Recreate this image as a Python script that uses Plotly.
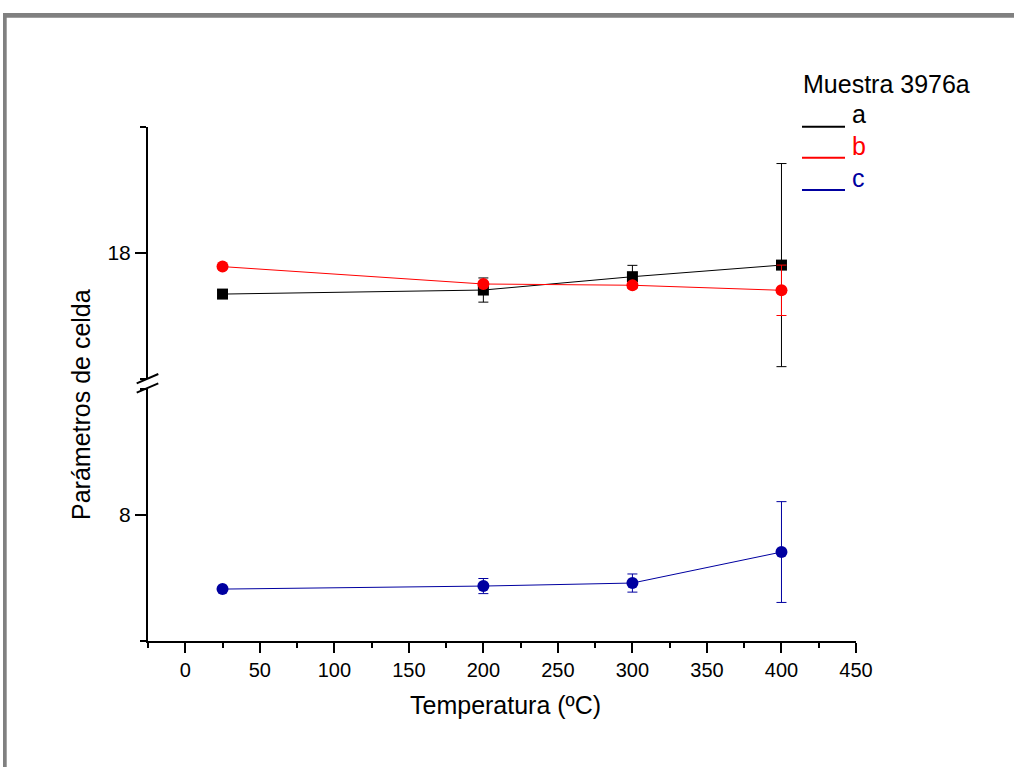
import plotly.graph_objects as go

# ---- data ----
temperatura = [25, 200, 300, 400]
a_vals = [17.837, 17.853, 17.906, 17.952]
a_err = [0.014, 0.048, 0.045, 0.403]
b_vals = [17.946, 17.877, 17.872, 17.852]
b_err = [0.0, 0.008, 0.010, 0.100]
c_vals = [7.706, 7.718, 7.730, 7.853]
c_err = [0.0, 0.030, 0.036, 0.200]
x_ticks = [0, 50, 100, 150, 200, 250, 300, 350, 400, 450]
legend_title = "Muestra 3976a"
series_names = ["a", "b", "c"]
colors = ["#000000", "#FF0000", "#0000A0"]

W, H = 1014, 767
L, R, T, B = 148, 856, 127, 641  # plot area in pixels
pw, ph = R - L, B - T

def px(x):
    return (x - L) / pw

def py(y):
    return (B - y) / ph

upper_dom = [py(379), 1.0]
lower_dom = [0.0, py(389)]

FONT = "Liberation Sans, Arial, sans-serif"

fig = go.Figure()

fig.add_trace(go.Scatter(
    x=temperatura, y=a_vals, mode="lines+markers", name=series_names[0],
    yaxis="y2", line=dict(color=colors[0], width=1),
    marker=dict(symbol="square", size=11, color=colors[0]),
    error_y=dict(type="data", array=a_err, visible=True, color=colors[0], thickness=1, width=5),
))
fig.add_trace(go.Scatter(
    x=temperatura, y=b_vals, mode="lines+markers", name=series_names[1],
    yaxis="y2", line=dict(color=colors[1], width=1),
    marker=dict(symbol="circle", size=12, color=colors[1]),
    error_y=dict(type="data", array=b_err, visible=True, color=colors[1], thickness=1, width=5),
))
fig.add_trace(go.Scatter(
    x=temperatura, y=c_vals, mode="lines+markers", name=series_names[2],
    yaxis="y", line=dict(color=colors[2], width=1),
    marker=dict(symbol="circle", size=12, color=colors[2]),
    error_y=dict(type="data", array=c_err, visible=True, color=colors[2], thickness=1, width=5),
))

axis_common = dict(
    showline=True, linecolor="black", linewidth=2, showgrid=False, zeroline=False,
    ticks="outside", tickcolor="black", tickwidth=2,
)

fig.update_layout(
    width=W, height=H,
    margin=dict(l=L, r=W - R, t=T, b=H - B, pad=0),
    paper_bgcolor="white", plot_bgcolor="white",
    showlegend=False,
    xaxis=dict(
        range=[-25, 450], tickvals=x_ticks, ticklen=10, anchor="y",
        tickfont=dict(family=FONT, size=20, color="black"),
        minor=dict(dtick=25, tick0=0, ticklen=5, ticks="outside", tickcolor="black", tickwidth=1.5),
        **axis_common,
    ),
    yaxis=dict(
        domain=lower_dom, range=[7.5, 8.5], tickvals=[8], ticklen=11, anchor="x",
        tickfont=dict(family=FONT, size=21, color="black"),
        minor=dict(dtick=0.5, tick0=0, ticklen=6, ticks="outside", tickcolor="black", tickwidth=1.5),
        **axis_common,
    ),
    yaxis2=dict(
        domain=upper_dom, range=[17.5, 18.5], tickvals=[18], ticklen=11, anchor="x",
        tickfont=dict(family=FONT, size=21, color="black"),
        minor=dict(dtick=0.5, tick0=0, ticklen=6, ticks="outside", tickcolor="black", tickwidth=1.5),
        **axis_common,
    ),
)

shapes = []
# page frame (gray)
shapes.append(dict(type="rect", xref="paper", yref="paper",
                   x0=px(3), x1=px(1014), y0=py(17.7), y1=py(13),
                   fillcolor="#808080", line=dict(width=0), layer="above"))
shapes.append(dict(type="rect", xref="paper", yref="paper",
                   x0=px(3), x1=px(6.7), y0=py(767), y1=py(13),
                   fillcolor="#808080", line=dict(width=0), layer="above"))
# axis break marks
for dy in (0, 9.4):
    shapes.append(dict(type="line", xref="paper", yref="paper",
                       x0=px(136.7), y0=py(383.3 + dy), x1=px(158.3), y1=py(374 + dy),
                       line=dict(color="black", width=2)))
# legend line samples
for yy, col in zip([126.7, 157.7, 190], colors):
    shapes.append(dict(type="line", xref="paper", yref="paper",
                       x0=px(802), x1=px(845), y0=py(yy), y1=py(yy),
                       line=dict(color=col, width=2)))
fig.update_layout(shapes=shapes)

ann = []
ann.append(dict(text=legend_title, xref="paper", yref="paper", x=px(801), y=py(84),
                xanchor="left", yanchor="middle", showarrow=False,
                font=dict(family=FONT, size=25, color="black")))
for name, yy, col in zip(series_names, [114, 146, 178], colors):
    ann.append(dict(text=name, xref="paper", yref="paper", x=px(850), y=py(yy),
                    xanchor="left", yanchor="middle", showarrow=False,
                    font=dict(family=FONT, size=25, color=col)))
ann.append(dict(text="Temperatura (ºC)", xref="paper", yref="paper", x=px(506), y=py(705),
                xanchor="center", yanchor="middle", showarrow=False,
                font=dict(family=FONT, size=25, color="black")))
ann.append(dict(text="Parámetros de celda", xref="paper", yref="paper", x=px(81), y=py(405),
                xanchor="center", yanchor="middle", showarrow=False, textangle=-90,
                font=dict(family=FONT, size=25, color="black")))
fig.update_layout(annotations=ann)

fig.write_html("out.html")
